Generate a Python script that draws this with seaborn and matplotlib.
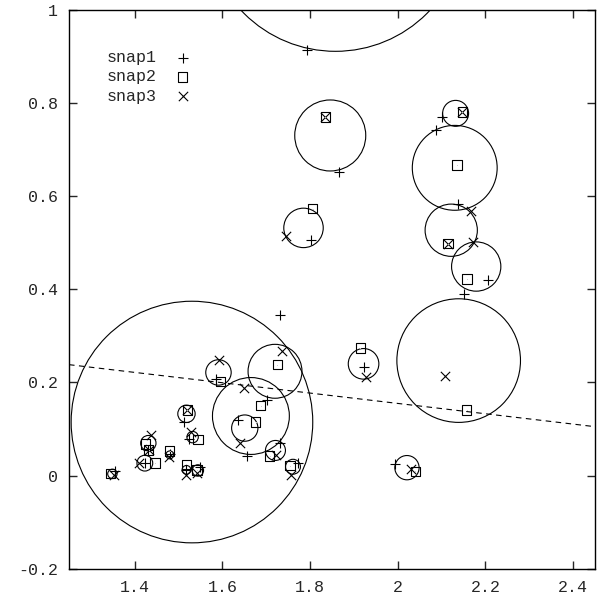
import numpy as np
import pandas as pd
import matplotlib
matplotlib.use("Agg")
import matplotlib.pyplot as plt
from matplotlib.patches import Ellipse
import seaborn as sns

## data
snap1_x = [1.793, 1.867, 1.803, 2.101, 2.087, 2.137, 2.205, 2.152, 1.994, 1.732,
           1.922, 1.702, 1.656, 1.636, 1.732, 1.772, 1.585, 1.512, 1.524, 1.431,
           1.423, 1.481, 1.518, 1.548, 1.355]
snap1_y = [0.915, 0.652, 0.507, 0.771, 0.742, 0.584, 0.420, 0.389, 0.0245, 0.3456,
           0.234, 0.163, 0.041, 0.120, 0.071, 0.028, 0.207, 0.116, 0.078, 0.054,
           0.027, 0.046, 0.012, 0.019, 0.009]

snap2_x = [1.835, 1.806, 2.147, 2.135, 2.115, 2.158, 2.157, 2.040, 1.915, 1.725,
           1.687, 1.676, 1.708, 1.754, 1.595, 1.520, 1.544, 1.425, 1.432, 1.446,
           1.480, 1.518, 1.542, 1.345]
snap2_y = [0.770, 0.573, 0.781, 0.667, 0.498, 0.422, 0.141, 0.0095, 0.274, 0.238,
           0.150, 0.115, 0.042, 0.021, 0.202, 0.141, 0.078, 0.068, 0.055, 0.027,
           0.053, 0.0245, 0.012, 0.005]

snap3_x = [1.835, 1.744, 2.147, 2.167, 2.115, 2.172, 2.107, 2.031, 1.928, 1.735,
           1.649, 1.641, 1.723, 1.757, 1.592, 1.520, 1.529, 1.438, 1.432, 1.409,
           1.478, 1.518, 1.541, 1.352]
snap3_y = [0.770, 0.514, 0.781, 0.568, 0.498, 0.502, 0.214, 0.014, 0.211, 0.267,
           0.188, 0.071, 0.0445, 0.0015, 0.249, 0.141, 0.0946, 0.0875, 0.055, 0.027,
           0.040, 0.0015, 0.005, 0.0015]

# circles: centre and radius (radius in x units)
circ_x = [1.858, 1.846, 1.785, 2.132, 2.130, 2.122, 2.179, 2.139, 2.021, 1.922,
          1.720, 1.665, 1.651, 1.721, 1.761, 1.5305, 1.591, 1.518, 1.532, 1.431,
          1.423, 1.480, 1.518, 1.544, 1.349]
circ_y = [1.189, 0.7305, 0.532, 0.778, 0.661, 0.527, 0.449, 0.247, 0.017, 0.240,
          0.224, 0.128, 0.102, 0.054, 0.019, 0.115, 0.2215, 0.1327, 0.0826, 0.0697,
          0.0267, 0.0445, 0.0123, 0.011, 0.0037]
circ_r = [0.295, 0.081, 0.045, 0.0296, 0.0968, 0.0596, 0.0562, 0.141, 0.0277, 0.0349,
          0.0615, 0.0877, 0.030, 0.0228, 0.017, 0.2756, 0.029, 0.0198, 0.013, 0.0175,
          0.018, 0.009, 0.010, 0.013, 0.0107]

# fitted line
fit_a = 0.377
fit_b = -0.111

xticks = [1.4, 1.6, 1.8, 2.0, 2.2, 2.4]
yticks = [-0.2, 0, 0.2, 0.4, 0.6, 0.8, 1.0]

sns.set_style("ticks")
plt.rcParams['font.family'] = ['Liberation Mono', 'DejaVu Sans']
plt.rcParams['axes.unicode_minus'] = False

fig = plt.figure(figsize=(6.05, 5.98), dpi=100)
ax = fig.add_axes([69/605, 1-568.7/598, 526/605, 558.7/598])
ax.set_xlim(1.25, 2.45)
ax.set_ylim(-0.2, 1.0)

# circles are round on screen, radius given in x units
px_x = ax.bbox.width / 1.2
px_y = ax.bbox.height / 1.2
for cx, cy, r in zip(circ_x, circ_y, circ_r):
    ax.add_patch(Ellipse((cx, cy), 2*r, 2*r*px_x/px_y, fill=False,
                         edgecolor='black', lw=0.8))

xs = np.array([1.25, 2.45])
sns.lineplot(x=xs, y=fit_a + fit_b*xs, ax=ax, color='black', lw=0.8,
             linestyle=(0, (5, 4)))

sns.scatterplot(x=snap1_x, y=snap1_y, marker='+', color='black', s=55,
                linewidth=0.8, ax=ax, label='snap1')
sns.scatterplot(x=snap2_x, y=snap2_y, marker='s', facecolor='none',
                edgecolor='black', s=45, linewidth=0.8, ax=ax, label='snap2')
sns.scatterplot(x=snap3_x, y=snap3_y, marker='x', color='black', s=45,
                linewidth=0.8, ax=ax, label='snap3')
# small centre dot on the squares
sns.scatterplot(x=snap2_x, y=snap2_y, marker='.', color='black', s=2,
                linewidth=0, ax=ax)

ax.set_xticks(xticks)
ax.set_yticks(yticks)
ax.set_xticklabels(['%g' % t for t in xticks])
ax.set_yticklabels(['%g' % t for t in yticks])
ax.tick_params(direction='in', length=6, width=1, top=True, right=True,
               labelsize=12, pad=8)
for s in ax.spines.values():
    s.set_visible(True)
    s.set_linewidth(1.0)
    s.set_color('black')

leg = ax.legend(loc='upper left', bbox_to_anchor=(0.058, 0.94), frameon=False,
                markerfirst=False, fontsize=12, handletextpad=0.6,
                labelspacing=0.25, borderaxespad=0)

fig.savefig('out.png', dpi=100)
